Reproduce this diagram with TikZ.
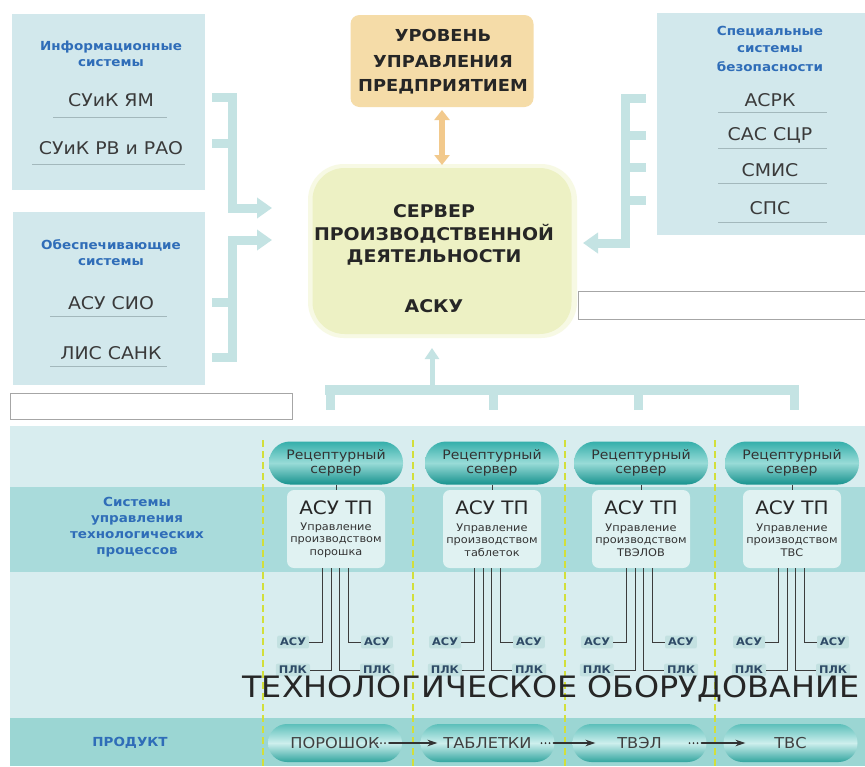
\documentclass[tikz,border=0pt]{standalone}
\usepackage{fontspec}
\setmainfont{DejaVu Sans}[FakeStretch=1.08]
\usetikzlibrary{arrows.meta,calc}

\definecolor{boxblue}{HTML}{D2E8EC}
\definecolor{barblue}{HTML}{C4E3E3}
\definecolor{hdrblue}{HTML}{2F6DB8}
\definecolor{itemgray}{HTML}{3A3A3A}
\definecolor{rulegray}{HTML}{A3B8BC}
\definecolor{orangebox}{HTML}{F5DCA8}
\definecolor{orangearr}{HTML}{F2C98C}
\definecolor{serverfill}{HTML}{EDF1C4}
\definecolor{bandlight}{HTML}{D8EDEF}
\definecolor{banddark}{HTML}{A9DBDB}
\definecolor{bandprod}{HTML}{9BD6D3}
\definecolor{pilltop}{HTML}{35AFAB}
\definecolor{pillmid}{HTML}{98DBD7}
\definecolor{pillbot}{HTML}{17928E}
\definecolor{prodtop}{HTML}{5CBFBA}
\definecolor{prodmid}{HTML}{CDEFED}
\definecolor{prodbot}{HTML}{32A59F}
\definecolor{asufill}{HTML}{E0F2F2}
\definecolor{dashgreen}{HTML}{D2DF3A}
\definecolor{labelbg}{HTML}{C3E1E1}
\definecolor{labeltext}{HTML}{2E4A66}
\definecolor{wiregray}{HTML}{3C3C3C}

\begin{document}
\begin{tikzpicture}[x=1pt,y=-1pt,
  every node/.style={inner sep=0pt,outer sep=0pt},
  sysbox/.style={fill=boxblue,draw=none,anchor=north west},
  hdr/.style={text=hdrblue,font=\bfseries\fontsize{12.5}{14}\selectfont},
  item/.style={text=itemgray,font=\fontsize{17.5}{19}\selectfont},
  itemrule/.style={draw=rulegray,line width=0.5pt},
  bar/.style={draw=barblue,line width=9pt,line cap=butt,line join=miter},
  bartip/.style={-{Triangle[length=15pt,width=20pt]}},
  bigbold/.style={text=black!85,font=\bfseries\fontsize{#1}{#1}\selectfont},
  placeholder/.style={draw=black!35,fill=white,line width=0.6pt,anchor=north west},
  recipe/.style={rounded corners=21pt,minimum width=134pt,minimum height=43pt,
    top color=pilltop,bottom color=pillbot,middle color=pillmid,
    text=black!80,align=center,font=\fontsize{13}{14}\selectfont},
  asubox/.style={fill=asufill,rounded corners=7pt,minimum width=98pt,minimum height=78pt},
  asutitle/.style={text=black!85,font=\fontsize{18.5}{19}\selectfont},
  asusub/.style={text=black!80,align=center,font=\fontsize{10.5}{12.5}\selectfont},
  wire/.style={draw=wiregray,line width=0.9pt},
  plc/.style={fill=labelbg,rounded corners=2pt,inner xsep=3pt,inner ysep=2.5pt,
    text=labeltext,font=\bfseries\fontsize{10.5}{11}\selectfont},
  divider/.style={draw=dashgreen,line width=1.6pt,dash pattern=on 7pt off 4pt},
  prod/.style={rounded corners=19pt,minimum width=134pt,minimum height=38pt,
    top color=prodtop,bottom color=prodbot,middle color=prodmid,
    text=black!75,font=\fontsize{15}{16}\selectfont},
  flow/.style={draw=black!80,line width=2pt,line cap=round,
    dash pattern=on 0pt off 4pt on 0pt off 4pt on 0pt off 4pt on 200pt,
    -{Stealth[length=10pt,width=6.5pt]}}
]
\useasboundingbox (0,0) rectangle (865,766);
\fill[white] (0,0) rectangle (865,766);

% ---------- information systems ----------
\node[sysbox,minimum width=193pt,minimum height=176pt] (info) at (12,14) {};
\node[hdr] (infoh1) at (111,47) {Информационные};
\node[hdr] (infoh2) at (111,63) {системы};
\node[item] (suikym) at (111,100) {СУиК ЯМ};
\draw[itemrule] (53,117) -- (167,117);
\node[item] (suikrv) at (111,148) {СУиК РВ и РАО};
\draw[itemrule] (32,164) -- (185,164);

% ---------- support systems ----------
\node[sysbox,minimum width=192pt,minimum height=173pt] (supp) at (13,212) {};
\node[hdr] (supph1) at (111,245) {Обеспечивающие};
\node[hdr] (supph2) at (111,262) {системы};
\node[item] (asusio) at (111,303) {АСУ СИО};
\draw[itemrule] (50,316) -- (167,316);
\node[item] (lis) at (111,353) {ЛИС САНК};
\draw[itemrule] (50,366) -- (167,366);

% ---------- special safety systems ----------
\node[sysbox,minimum width=208pt,minimum height=222pt] (safety) at (657,13) {};
\node[hdr] (safh1) at (770,32) {Специальные};
\node[hdr] (safh2) at (770,49) {системы};
\node[hdr] (safh3) at (770,67) {безопасности};
\node[item] (asrk) at (770,100) {АСРК};
\draw[itemrule] (718,112) -- (827,112);
\node[item] (sas) at (770,135) {САС СЦР};
\draw[itemrule] (718,148) -- (827,148);
\node[item] (smis) at (770,170) {СМИС};
\draw[itemrule] (718,183) -- (827,183);
\node[item] (sps) at (770,208) {СПС};
\draw[itemrule] (718,222) -- (827,222);

% ---------- empty frames ----------
\node[placeholder,minimum width=282pt,minimum height=26pt] (frameL) at (10,393) {};
\node[placeholder,minimum width=290pt,minimum height=28pt] (frameR) at (578,291) {};

% ---------- enterprise level and server ----------
\node[fill=orangebox,rounded corners=9pt,minimum width=183pt,minimum height=92pt] (top) at (442,61) {};
\node[bigbold=16.5] (toph1) at (443,35) {УРОВЕНЬ};
\node[bigbold=16.5] (toph2) at (443,61) {УПРАВЛЕНИЯ};
\node[bigbold=16.5] (toph3) at (443,87) {ПРЕДПРИЯТИЕМ};

\fill[serverfill!45!white,rounded corners=36pt] (308,164) rectangle (577,338);
\node[fill=serverfill,rounded corners=32pt,minimum width=259pt,minimum height=166pt] (server) at (442,251) {};
\node[bigbold=17.5] (srv1) at (434,211) {СЕРВЕР};
\node[bigbold=17.5] (srv2) at (434,234) {ПРОИЗВОДСТВЕННОЙ};
\node[bigbold=17.5] (srv3) at (434,257) {ДЕЯТЕЛЬНОСТИ};
\node[bigbold=17.5] (srv4) at (434,306) {АСКУ};

\draw[draw=orangearr,line width=6pt,
  {Triangle[length=10pt,width=15pt]}-{Triangle[length=10pt,width=15pt]}]
  ([yshift=-3pt]top.south) -- ([yshift=3pt]server.north);

% ---------- collector brackets ----------
\coordinate (infoIn) at (272,208);
\coordinate (suppIn) at (272,240);
\coordinate (safeIn) at (583,243);
\draw[bar,bartip] (212,97) -- (232,97) -- (232,208) -- (infoIn);
\draw[bar] (212,143) -- (232,143);
\draw[bar,bartip] (212,357) -- (232,357) -- (232,240) -- (suppIn);
\draw[bar] (212,302) -- (232,302);
\draw[bar,bartip] (646,98) -- (625,98) -- (625,243) -- (safeIn);
\foreach \yy in {135,167,200} \draw[bar] (625,\yy) -- (646,\yy);

% ---------- field bus ----------
\draw[bar,line width=10pt] (325,390) -- (799,390);
\foreach \xx in {330,493,638,794} \draw[bar] (\xx,390) -- (\xx,410);
\coordinate (busUp) at (432,386);
\draw[draw=barblue,line width=5pt,-{Triangle[length=11pt,width=14pt]}]
  (busUp) -- ([yshift=-14pt,xshift=-10pt]server.south);

% ---------- process level bands ----------
\fill[bandlight] (10,426) rectangle (865,766);
\fill[banddark] (10,487) rectangle (865,572);
\fill[bandprod] (10,718) rectangle (865,766);

\node[hdr,align=center,font=\bfseries\fontsize{12.5}{16}\selectfont] (aps)
  at (137,527) {Системы\\управления\\технологических\\процессов};
\node[hdr] (prodlbl) at (130,743) {ПРОДУКТ};

\foreach \xx in {263,413,565,715} \draw[divider] (\xx,440) -- (\xx,766);

\foreach \i/\cx/\lx/\what in {1/336/335/порошка,2/492/487/таблеток,3/641/639/ТВЭЛОВ,4/792/791/ТВС}{
  \node[recipe] (rs\i) at (\cx,463) {Рецептурный\\сервер};
  \node[asubox] (asu\i) at (\cx,529) {};
  \node[asutitle] (asut\i) at (\cx,508) {АСУ ТП};
  \node[asusub] (asus\i) at (\cx,540) {Управление\\производством\\\what};
  \draw[wire] (rs\i.south) -- (asu\i.north);
  \node[plc,anchor=east] (la\i) at (\lx-26,642) {АСУ};
  \node[plc,anchor=east] (lp\i) at (\lx-25,670) {ПЛК};
  \node[plc,anchor=west] (ra\i) at (\lx+26,642) {АСУ};
  \node[plc,anchor=west] (rp\i) at (\lx+25,670) {ПЛК};
  \draw[wire] ([xshift={\lx-\cx-13}]asu\i.south) |- (la\i.east);
  \draw[wire] ([xshift={\lx-\cx-4}]asu\i.south) |- (lp\i.east);
  \draw[wire] ([xshift={\lx-\cx+4}]asu\i.south) |- (rp\i.west);
  \draw[wire] ([xshift={\lx-\cx+13}]asu\i.south) |- (ra\i.west);
}

\node[text=black!85,font=\fontsize{29.5}{30}\selectfont] (equip) at (551,689)
  {ТЕХНОЛОГИЧЕСКОЕ ОБОРУДОВАНИЕ};

% ---------- products ----------
\node[prod] (pp1) at (335,743) {ПОРОШОК};
\node[prod] (pp2) at (487.5,743) {ТАБЛЕТКИ};
\node[prod] (pp3) at (639.5,743) {ТВЭЛ};
\node[prod] (pp4) at (790.5,743) {ТВС};
\draw[flow] ([xshift=-25pt]pp1.east) -- ([xshift=17pt]pp2.west);
\draw[flow] ([xshift=-13pt]pp2.east) -- ([xshift=23pt]pp3.west);
\draw[flow] ([xshift=-17pt]pp3.east) -- ([xshift=22pt]pp4.west);
\end{tikzpicture}
\end{document}
